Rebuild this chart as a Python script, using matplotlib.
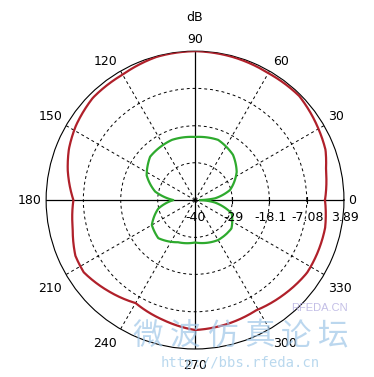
import numpy as np
import matplotlib.pyplot as plt

# gain pattern (angle in degrees, level in dB)
red_angles = [0, 13, 21, 30, 45, 60, 75, 90, 105, 120, 135, 148, 158, 167, 180,
              193, 205, 213, 226, 240, 255, 270, 283, 299, 313, 327, 336, 348, 360]
red_db = [-1.7, -0.4, 1.2, 2.0, 3.4, 3.2, 3.6, 3.89, 3.7, 2.7, 2.6, 1.4, 0.1, -1.5, -4.15,
          -3.0, -1.1, -0.9, -2.9, -4.95, -3.45, -1.7, -2.2, -2.85, -1.8, -0.65, -0.7, -0.8, -1.7]

green_angles = [0, 5, 16, 34, 50, 69, 90, 111, 136, 153, 168, 180,
                193, 210, 226, 248, 270, 300, 322, 340, 353, 360]
green_db = [-38.5, -34.1, -29.3, -25.2, -22.6, -21.0, -21.4, -21.0, -21.6, -24.0, -28.0, -33.6,
            -28.9, -25.3, -24.4, -26.6, -27.5, -26.4, -26.4, -28.5, -34.1, -38.5]

ring_values = [-40, -29, -18.1, -7.08, 3.89]
ring_labels = ['-40', '-29', '-18.1', '-7.08', '3.89']
angle_ticks = [0, 30, 60, 90, 120, 150, 180, 210, 240, 270, 300, 330]

plt.rcParams['font.family'] = ['DejaVu Sans']
plt.rcParams['font.size'] = 9

fig = plt.figure(figsize=(3.74, 3.77), dpi=100)
ax = fig.add_axes([0.123, 0.0743, 0.797, 0.790], projection='polar')
rmin, rmax = ring_values[0], ring_values[-1]
ax.set_ylim(rmin, rmax)

# grid
ax.set_yticks(ring_values[1:-1])
ax.set_xticks(np.deg2rad(angle_ticks))
ax.set_yticklabels([])
ax.set_xticklabels([])
ax.tick_params(length=0)
ax.grid(True, color='black', linestyle=(0, (3, 3)), linewidth=0.7)
ax.spines['polar'].set_color('black')
ax.spines['polar'].set_linewidth(0.8)

# solid axes lines
for a in [0, 90, 180, 270]:
    ax.plot([np.deg2rad(a)] * 2, [rmin, rmax], color='black', lw=0.9, zorder=2)

# small ticks on the 0 deg axis
ax.plot([0] * 4, ring_values[1:], linestyle='none', marker='|', color='black',
        markersize=4, markeredgewidth=0.8, zorder=3)

red_line, = ax.plot(np.deg2rad(red_angles), red_db, color='#b0202a', lw=1.6, zorder=4)
green_line, = ax.plot(np.deg2rad(green_angles), green_db, color='#2eaa2e', lw=1.6, zorder=4)
# draw the segments along polar arcs instead of straight chords
for ln in (red_line, green_line):
    ln.get_path()._interpolation_steps = 40

# angle labels
px = 0.72
label_style = {
    0: ((4, 0), 'left', 'center'),
    30: ((4, 5.5), 'left', 'baseline'),
    60: ((3.5, 6), 'left', 'baseline'),
    90: ((0, 8), 'center', 'baseline'),
    120: ((-3.5, 6), 'right', 'baseline'),
    150: ((-4, 5.5), 'right', 'baseline'),
    180: ((-5, 0), 'right', 'center'),
    210: ((-4, -7.5), 'right', 'top'),
    240: ((-3.5, -8), 'right', 'top'),
    270: ((0, -10), 'center', 'top'),
    300: ((3.5, -8), 'left', 'top'),
    330: ((4, -7.5), 'left', 'top'),
}
for a in angle_ticks:
    (dx, dy), ha, va = label_style[a]
    ax.annotate(str(a), xy=(np.deg2rad(a), rmax), xytext=(dx * px, dy * px),
                textcoords='offset points', ha=ha, va=va, annotation_clip=False)
ax.annotate('dB', xy=(np.pi / 2, rmax), xytext=(0, 30 * px), textcoords='offset points',
            ha='center', va='baseline', annotation_clip=False)

# radial labels
for v, s in zip(ring_values, ring_labels):
    ax.annotate(s, xy=(0, v), xytext=(1 * px, -11 * px), textcoords='offset points',
                ha='center', va='top', annotation_clip=False, zorder=5)

# watermark
wm = '微波仿真论坛'
for ch, x in zip(wm, np.linspace(148, 333, len(wm))):
    fig.text(x / 374, 1 - 336 / 377, ch, family=['Noto Sans CJK SC'], fontsize=22,
             color='#9fc6e8', alpha=0.7, ha='center', va='center', zorder=6)
fig.text(240 / 374, 1 - 363 / 377, 'http://bbs.rfeda.cn', family=['DejaVu Sans Mono'],
         fontsize=10, color='#a9cfea', alpha=0.8, ha='center', va='center')
fig.text(319 / 374, 1 - 308 / 377, 'RFEDA.CN', family=['Liberation Sans'],
         fontsize=8, color='#b4aee0', alpha=0.8, ha='center', va='center')

fig.savefig('out.png', dpi=100)
